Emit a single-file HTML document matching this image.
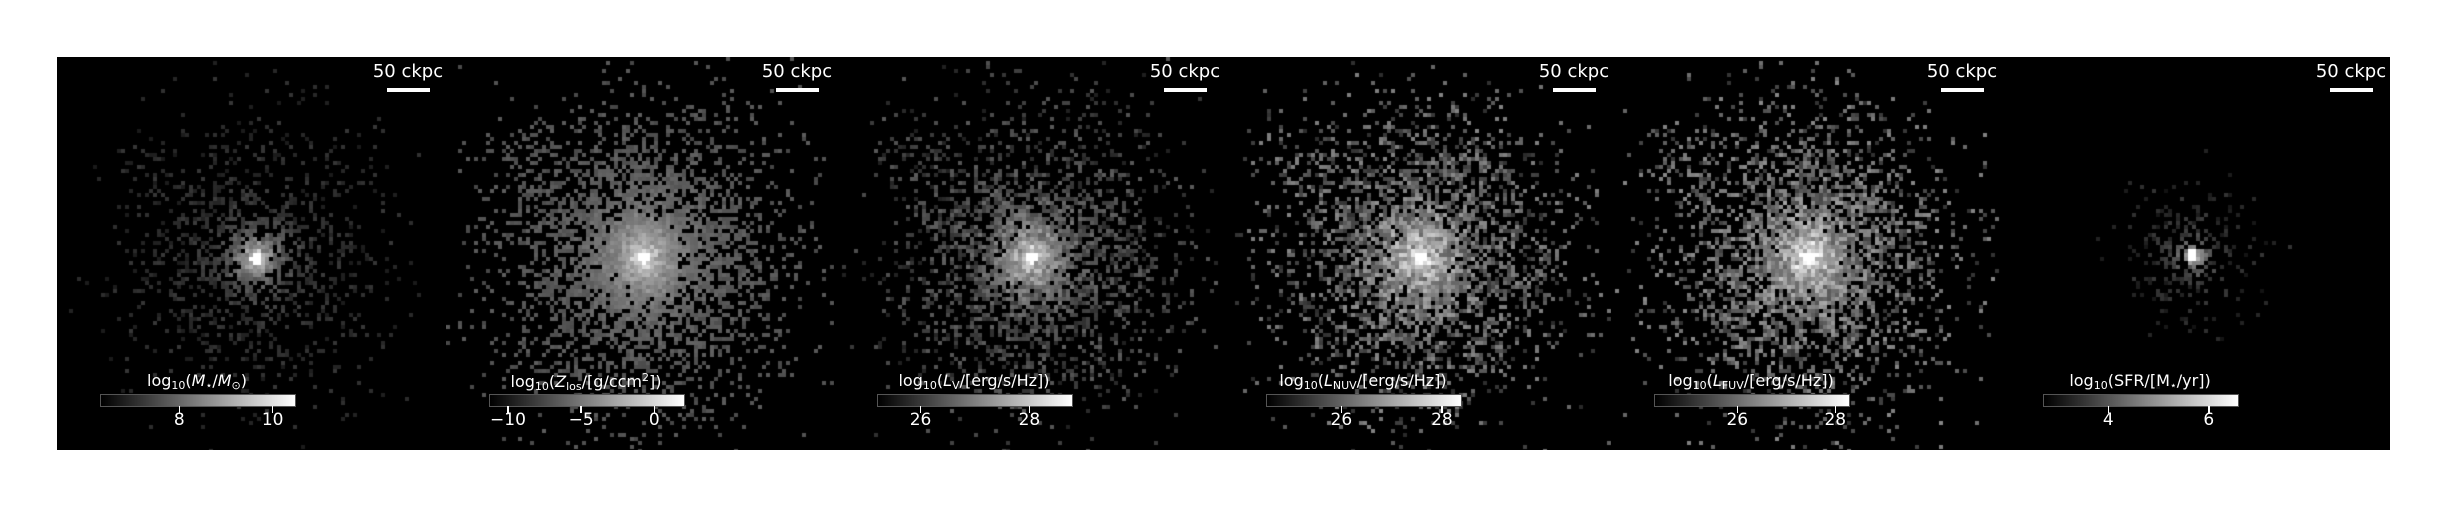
<!DOCTYPE html>
<html><head><meta charset="utf-8"><style>
html,body{margin:0;padding:0;background:#fff;}
#wrap{position:relative;width:2444px;height:507px;overflow:hidden;background:#fff;font-family:"DejaVu Sans","Liberation Sans",sans-serif;}
#bg{position:absolute;left:57px;top:57px;width:2332px;height:393px;background:#000;}
.panel{position:absolute;top:57px;width:390px;height:393px;background:#000;overflow:hidden;}
.panel canvas{position:absolute;left:0;top:0;}
.sb-text{position:absolute;color:#fff;font-size:18px;width:120px;text-align:center;top:4px;}
.sb-bar{position:absolute;height:4px;width:43px;background:#fff;top:31px;}
.cb{position:absolute;left:43px;top:337px;width:194px;height:11px;border:1px solid #555;background:linear-gradient(to right,#000,#fff);}
.cb-title{position:absolute;color:#fff;font-size:16px;white-space:nowrap;top:314px;transform:translateX(-50%);}
.tick{position:absolute;top:349px;width:1.5px;height:7px;background:#fff;}
.tl{position:absolute;top:353px;color:#fff;font-size:17px;transform:translateX(-50%);}
sub{font-size:11px;vertical-align:-3px;}
sup{font-size:11px;vertical-align:6px;}
</style></head><body>
<div id="wrap"><div id="bg"></div></div>
<script>
const panelNames=['stellar-mass','metallicity','v-band-luminosity','nuv-luminosity','fuv-luminosity','star-formation-rate'];
const titles=['log<sub>10</sub>(<i>M</i><sub>⋆</sub>/<i>M</i><sub>⊙</sub>)','log<sub>10</sub>(<i>Z</i><sub>los</sub>/[g/ccm<sup>2</sup>])','log<sub>10</sub>(<i>L</i><sub>V</sub>/[erg/s/Hz])','log<sub>10</sub>(<i>L</i><sub>NUV</sub>/[erg/s/Hz])','log<sub>10</sub>(<i>L</i><sub>FUV</sub>/[erg/s/Hz])','log<sub>10</sub>(SFR/[M<sub>⋆</sub>/yr])'];
const tickLabels=[['8','10'],['−10','−5','0'],['26','28'],['26','28'],['26','28'],['4','6']];
const tickValues=[[8,10],[-10,-5,0],[26,28],[26,28],[26,28],[4,6]];
const cbMin=[6.3,-11.3,25.2,24.5,24.3,2.7];
const cbMax=[10.5,2.1,28.8,28.4,28.3,6.6];
const panelLeft=[57,446,834,1223,1611,2000];
const gal=[
 {R:125,occ:0.3,base:40,spread:15,amp:190,sc:20,cx:197,cy:199},
 {R:140,occ:0.55,base:80,spread:12,amp:150,sc:32,cx:196,cy:199},
 {R:135,occ:0.45,base:60,spread:30,amp:170,sc:28,cx:196,cy:199},
 {R:140,occ:0.5,base:85,spread:45,amp:150,sc:32,cx:196,cy:199},
 {R:140,occ:0.5,base:90,spread:45,amp:150,sc:32,cx:196,cy:199},
 {R:70,occ:0.2,base:35,spread:18,amp:200,sc:12,cx:190,cy:197}
];
let seed=12345;
function rnd(){seed=(seed*1103515245+12345)&0x7fffffff;return seed/0x7fffffff;}
const wrap=document.getElementById('wrap');
for(let i=0;i<6;i++){
  const p=document.createElement('div');
  p.className='panel';p.style.left=panelLeft[i]+'px';
  
  
  const cv=document.createElement('canvas');cv.width=390;cv.height=393;
  
  
  p.appendChild(cv);
  const g=gal[i],ctx=cv.getContext('2d'),cs=4;
  seed=1000+i*7;
  for(let y=0;y<393;y+=cs)for(let x=0;x<388;x+=cs){
    const dx=x-g.cx,dy=y-g.cy;
    const r=Math.sqrt(dx*dx*1.15+dy*dy);
    const fx=x-(g.cx-125*g.R/140),fy=y-(g.cy-105*g.R/140);
    const rf=Math.sqrt(fx*fx+fy*fy);
    let occ=g.occ*Math.exp(-Math.pow(r/g.R,3))+0.5*g.occ*Math.exp(-Math.pow(rf/(g.R*0.22),2))+Math.exp(-r/(g.sc*1.3));
    if(rnd()<occ){
      let v=g.base+(rnd()-0.5)*2*g.spread+g.amp*Math.exp(-r/g.sc)*(0.75+0.5*rnd());
      if(r<6)v=255;
      v=Math.max(15,Math.min(255,Math.round(v)));
      ctx.fillStyle=`rgb(${v},${v},${v})`;ctx.fillRect(x,y,cs,cs);
    }
  }
  const st=document.createElement('div');st.className='sb-text';st.style.left=(351-60)+'px';st.textContent='50 ckpc';
  p.appendChild(st);
  const sb=document.createElement('div');sb.className='sb-bar';sb.style.left='330px';
  p.appendChild(sb);
  const cb=document.createElement('div');cb.className='cb';
  p.appendChild(cb);
  const t=document.createElement('div');t.className='cb-title';t.style.left='140px';t.innerHTML=titles[i];
  p.appendChild(t);
  const xs=v=>43+(v-cbMin[i])/(cbMax[i]-cbMin[i])*196;
  tickValues[i].forEach((v,k)=>{
    const tk=document.createElement('div');tk.className='tick';tk.style.left=(xs(v)-0.75)+'px';
    p.appendChild(tk);
    const tl=document.createElement('div');tl.className='tl';tl.style.left=xs(v)+'px';tl.textContent=tickLabels[i][k];
    p.appendChild(tl);
  });
  wrap.appendChild(p);
}
</script>
</body></html>
